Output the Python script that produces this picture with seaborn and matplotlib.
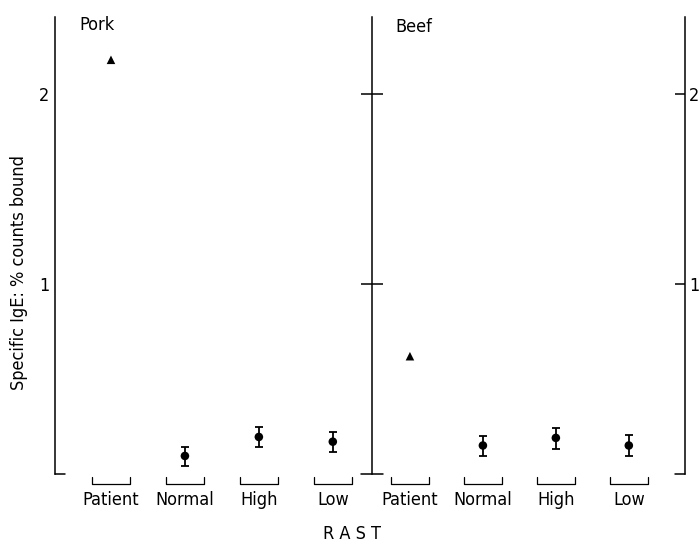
import numpy as np
import pandas as pd
import matplotlib
matplotlib.use("Agg")
import matplotlib.pyplot as plt
import seaborn as sns

categories = ["Patient", "Normal", "High", "Low"]
pork_mean = [2.18, 0.095, 0.195, 0.17]
pork_lo = [np.nan, 0.04, 0.14, 0.115]
pork_hi = [np.nan, 0.14, 0.25, 0.22]
beef_mean = [0.62, 0.15, 0.19, 0.15]
beef_lo = [np.nan, 0.095, 0.13, 0.095]
beef_hi = [np.nan, 0.20, 0.24, 0.205]
yticks = [1, 2]
ytick_labels = ["1", "2"]

sns.set_style("white")
plt.rcParams['font.family'] = ['DejaVu Sans']
plt.rcParams['font.stretch'] = 'condensed'
for k in ['text.color', 'xtick.color', 'ytick.color', 'axes.labelcolor', 'axes.edgecolor']:
    plt.rcParams[k] = 'black'

fig = plt.figure(figsize=(6.99, 5.49), dpi=100)
W, H = 699, 549
bot, top = 474, 17
ax1 = fig.add_axes([55 / W, 1 - bot / H, (372 - 55) / W, (bot - top) / H])
ax2 = fig.add_axes([372 / W, 1 - bot / H, (685 - 372) / W, (bot - top) / H])
ax3 = ax2.twinx()

YMAX = (bot - top) / 190.0
lw = 1.1
FS = 13


def draw_panel(ax, mean, lo, hi, xlim):
    pos = np.arange(len(categories))
    df = pd.DataFrame({"x": pos, "y": mean, "lo": lo, "hi": hi,
                       "kind": ["patient"] + ["group"] * (len(categories) - 1)})
    sns.scatterplot(data=df, x="x", y="y", style="kind",
                    markers={"patient": "^", "group": "o"},
                    s=38, color="black", edgecolor="black", linewidth=0,
                    legend=False, ax=ax, zorder=3)
    m = df["lo"].notna()
    ax.errorbar(df.loc[m, "x"], df.loc[m, "y"],
                yerr=[df.loc[m, "y"] - df.loc[m, "lo"], df.loc[m, "hi"] - df.loc[m, "y"]],
                fmt="none", ecolor="black", elinewidth=1.3, capsize=3, capthick=1.3)
    for c in pos:
        ax.plot([c - 0.26, c - 0.26, c + 0.26, c + 0.26],
                [-0.016, -0.053, -0.053, -0.016],
                color="black", lw=0.9, clip_on=False)
    ax.set_xlim(*xlim)
    ax.set_ylim(0, YMAX)
    ax.set_xticks(pos)
    ax.set_xticklabels(categories, fontsize=FS)
    ax.tick_params(axis="x", length=0, pad=12)
    ax.set_xlabel("")
    ax.set_ylabel("")
    for s in ["top", "bottom", "right"]:
        ax.spines[s].set_visible(False)
    ax.spines["left"].set_color("black")
    ax.spines["left"].set_linewidth(lw)


draw_panel(ax1, pork_mean, pork_lo, pork_hi, (-0.757, 3.53))
draw_panel(ax2, beef_mean, beef_lo, beef_hi, (-0.52, 3.77))

ax1.set_yticks(yticks)
ax1.set_yticklabels(ytick_labels, fontsize=FS)
ax1.tick_params(axis="y", direction="in", length=7.2, width=lw, pad=4, color="black")
ax1.plot([0, 10 / 317], [0, 0], transform=ax1.transAxes, color="black", lw=lw, clip_on=False)

ax2.set_yticks(yticks)
ax2.set_yticklabels([])
ax2.tick_params(axis="y", direction="inout", length=16, width=lw, color="black")
ax2.plot([-11 / 313, 11 / 313], [0, 0], transform=ax2.transAxes, color="black", lw=lw, clip_on=False)

ax3.set_ylim(0, YMAX)
ax3.set_yticks(yticks)
ax3.set_yticklabels(ytick_labels, fontsize=FS)
ax3.tick_params(axis="y", direction="in", length=7.2, width=lw, pad=3, color="black")
for s in ["top", "bottom", "left"]:
    ax3.spines[s].set_visible(False)
ax3.spines["right"].set_color("black")
ax3.spines["right"].set_linewidth(lw)
ax3.plot([1 - 10 / 317, 1], [0, 0], transform=ax3.transAxes, color="black", lw=lw, clip_on=False)
ax3.grid(False)

ax1.set_ylabel("Specific IgE: % counts bound", fontsize=FS)
ax1.yaxis.set_label_coords((28 - 55) / 317, 0.44)

fig.text(79 / W, 1 - 25 / H, "Pork", fontsize=FS, ha="left", va="center")
fig.text(395 / W, 1 - 27 / H, "Beef", fontsize=FS, ha="left", va="center")
fig.text(352 / W, 1 - 534 / H, "R A S T", fontsize=FS, ha="center", va="center")

fig.savefig("out.png", dpi=100)
